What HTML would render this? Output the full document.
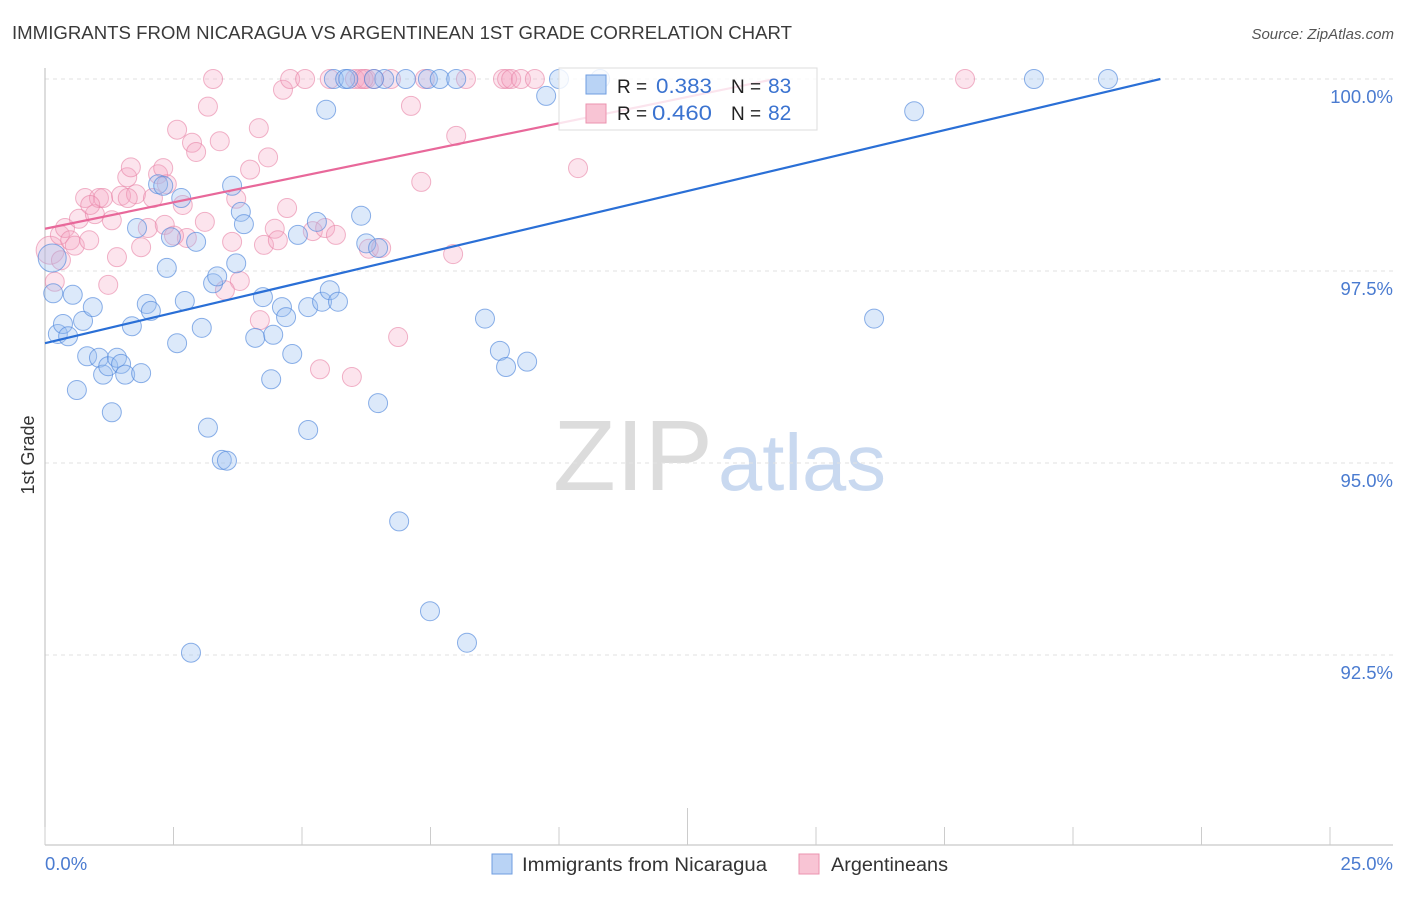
<!DOCTYPE html>
<html><head><meta charset="utf-8"><style>
html,body{margin:0;padding:0;background:#fff;}
body{width:1406px;height:892px;overflow:hidden;font-family:"Liberation Sans",sans-serif;}
svg text{font-family:"Liberation Sans",sans-serif;}
</style></head><body>
<svg id="chart" width="1406" height="892">
<text x="12" y="39" font-size="18" fill="#3a3a3a" textLength="780" lengthAdjust="spacingAndGlyphs">IMMIGRANTS FROM NICARAGUA VS ARGENTINEAN 1ST GRADE CORRELATION CHART</text>
<text x="1394" y="39" font-size="15" fill="#555" font-style="italic" text-anchor="end">Source: ZipAtlas.com</text>
<text x="34" y="455" font-size="18" fill="#333" text-anchor="middle" transform="rotate(-90 34 455)">1st Grade</text>
<g><text x="553" y="490" font-size="100" fill="#dcdcdc" font-family="Liberation Serif" textLength="160" lengthAdjust="spacingAndGlyphs">ZIP</text><text x="718" y="490" font-size="80" fill="#c9d9f0" textLength="168" lengthAdjust="spacingAndGlyphs">atlas</text></g>
<g id="grid"></g><g id="axes"></g><g id="points"></g><g id="lines"></g>
<g>
<rect x="559" y="68" width="258" height="62" fill="rgba(255,255,255,0.82)" stroke="#ddd"/>
<rect x="586" y="75" width="20" height="19" fill="#b9d3f5" stroke="#6f9ee0"/>
<rect x="586" y="104" width="20" height="19" fill="#f8c4d4" stroke="#eb93af"/>
<text x="617" y="93" font-size="19" fill="#222">R =</text>
<text x="656" y="93" font-size="21" fill="#3b73d0" textLength="56" lengthAdjust="spacingAndGlyphs">0.383</text>
<text x="731" y="93" font-size="19" fill="#222">N =</text>
<text x="768" y="93" font-size="21" fill="#3b73d0">83</text>
<text x="617" y="120" font-size="19" fill="#222">R =</text>
<text x="652" y="120" font-size="21" fill="#3b73d0" textLength="60" lengthAdjust="spacingAndGlyphs">0.460</text>
<text x="731" y="120" font-size="19" fill="#222">N =</text>
<text x="768" y="120" font-size="21" fill="#3b73d0">82</text>
</g>
<g>
<rect x="492" y="854" width="20" height="20" fill="#b9d3f5" stroke="#6f9ee0"/>
<text x="522" y="871" font-size="19" fill="#333" textLength="245" lengthAdjust="spacingAndGlyphs">Immigrants from Nicaragua</text>
<rect x="799" y="854" width="20" height="20" fill="#f8c4d4" stroke="#eb93af"/>
<text x="831" y="871" font-size="19" fill="#333" textLength="117" lengthAdjust="spacingAndGlyphs">Argentineans</text>
</g>
</svg>
<script>
const blueX=[0.14,0.16,0.25,0.35,0.45,0.54,0.62,0.74,0.82,0.93,1.05,1.13,1.23,1.30,1.40,1.48,1.56,1.69,1.79,1.87,1.98,2.06,2.20,2.30,2.37,2.45,2.57,2.65,2.72,2.84,2.94,3.05,3.17,3.27,3.35,3.44,3.54,3.64,3.72,3.81,3.87,4.09,4.24,4.40,4.44,4.61,4.69,4.81,4.92,5.12,5.12,5.29,5.39,5.47,5.54,5.62,5.70,5.84,6.15,6.25,6.48,6.48,6.60,6.89,7.02,7.45,7.49,7.68,8.00,8.21,8.56,8.85,8.97,9.38,9.75,10.0,16.13,16.91,19.24,20.68,10.8,6.4,5.9];
const blueY=[97.67,97.21,96.68,96.81,96.65,97.19,95.95,96.85,96.39,97.03,96.37,96.15,96.26,95.66,96.37,96.29,96.15,96.78,98.06,96.17,97.07,96.98,98.63,98.61,97.54,97.94,96.56,98.45,97.11,92.53,97.88,96.76,95.46,97.34,97.43,95.04,95.03,98.61,97.60,98.27,98.11,96.63,97.16,96.09,96.67,97.03,96.90,96.42,97.97,95.43,97.03,98.14,97.10,99.60,97.25,100,97.10,100,98.22,97.86,97.80,95.78,100,94.24,100,100,93.07,100,100,92.66,96.88,96.46,96.25,96.32,99.78,100,96.88,99.58,100,100,100,100,100];
const pinkX=[0.10,0.19,0.29,0.39,0.49,0.58,0.66,0.78,0.86,0.97,1.05,1.13,1.23,1.30,1.40,1.48,1.60,1.67,1.77,1.87,2.00,2.10,2.20,2.30,2.37,2.57,2.86,2.94,3.17,3.27,3.40,2.76,3.11,3.64,3.72,3.79,3.99,4.16,4.34,4.26,4.47,4.53,4.63,4.71,4.77,5.06,5.21,5.35,5.45,5.54,5.66,5.97,6.03,6.13,6.25,6.30,6.40,6.54,6.73,6.87,7.12,7.32,7.39,7.94,8.00,8.19,8.91,8.99,9.07,9.26,9.53,10.37,17.90,3.50,4.18,2.33,2.68,2.51,1.61,0.88,0.31,6.2];
const pinkY=[97.77,97.36,97.97,98.06,97.90,97.83,98.18,98.45,97.90,98.24,98.45,98.45,97.32,98.16,97.68,98.48,98.72,98.85,98.50,97.81,98.06,98.45,98.76,98.84,98.63,99.34,99.17,99.05,99.64,100,99.19,97.93,98.14,97.88,98.44,97.37,98.82,99.36,98.98,97.84,98.05,97.90,99.86,98.32,100,100,98.02,96.22,98.06,100,97.97,96.12,100,100,100,97.79,100,97.80,100,96.64,99.65,98.66,100,97.72,99.26,100,100,100,100,100,100,98.84,100,97.25,96.86,98.10,98.36,97.96,98.45,98.36,97.64,100];
const blueTrend=[[0,96.56],[21.7,100]];
const pinkTrend=[[0,98.05],[14.2,100]];
const yTicks=[100,97.5,95,92.5];
const yTickLabels=["100.0%","97.5%","95.0%","92.5%"];
const xTickVals=[0,2.5,5,7.5,10,12.5,15,17.5,20,22.5,25];

const NS="http://www.w3.org/2000/svg";
const sx=v=>45+v*51.4;
const sy=v=>79+(100-v)*76.8;
function mk(tag,attrs,parent){const e=document.createElementNS(NS,tag);for(const k in attrs)e.setAttribute(k,attrs[k]);parent.appendChild(e);return e;}
const grid=document.getElementById('grid'),axes=document.getElementById('axes'),lines=document.getElementById('lines'),pts=document.getElementById('points');
yTicks.forEach((t,i)=>{
  const l=mk('line',{x1:45,x2:1393,y1:sy(t),y2:sy(t),stroke:'#e2e2e2','stroke-dasharray':'4,4'},grid);
  
  
  const tx=mk('text',{x:1393,y:sy(t)+24,'font-size':18.5,fill:'#4a7bd0','text-anchor':'end'},axes);
  tx.textContent=yTickLabels[i];
  
  
});
const ya=mk('line',{x1:45,x2:45,y1:68,y2:845,stroke:'#bbb'},axes);


const xa=mk('line',{x1:45,x2:1393,y1:845,y2:845,stroke:'#bbb'},axes);


xTickVals.forEach(v=>{
  const t=mk('line',{x1:sx(v),x2:sx(v),y1:(v===12.5?808:827),y2:845,stroke:'#ccc'},axes);
  
  
});
const xl0=mk('text',{x:45,y:870,'font-size':18.5,fill:'#4a7bd0'},axes);xl0.textContent='0.0%';


const xl1=mk('text',{x:1393,y:870,'font-size':18.5,fill:'#4a7bd0','text-anchor':'end'},axes);xl1.textContent='25.0%';


function drawPts(X,Y,fill,stroke,name){
  X.forEach((x,i)=>{
    const r=(i===0)?14:9.5;
    const c=mk('circle',{cx:sx(x),cy:sy(Y[i]),r:r,fill:fill,stroke:stroke,'stroke-width':1},pts);
    
    
  });
}
drawPts(pinkX,pinkY,'rgba(245,165,195,0.3)','rgba(232,130,165,0.6)','point-argentineans');
drawPts(blueX,blueY,'rgba(155,192,240,0.35)','rgba(80,135,220,0.65)','point-nicaragua');
const bl=mk('line',{x1:sx(blueTrend[0][0]),y1:sy(blueTrend[0][1]),x2:sx(blueTrend[1][0]),y2:sy(blueTrend[1][1]),stroke:'#2a6fd6','stroke-width':2.2},lines);


const pl=mk('line',{x1:sx(pinkTrend[0][0]),y1:sy(pinkTrend[0][1]),x2:sx(pinkTrend[1][0]),y2:sy(pinkTrend[1][1]),stroke:'#e8689a','stroke-width':2.2},lines);


</script>
</body></html>
